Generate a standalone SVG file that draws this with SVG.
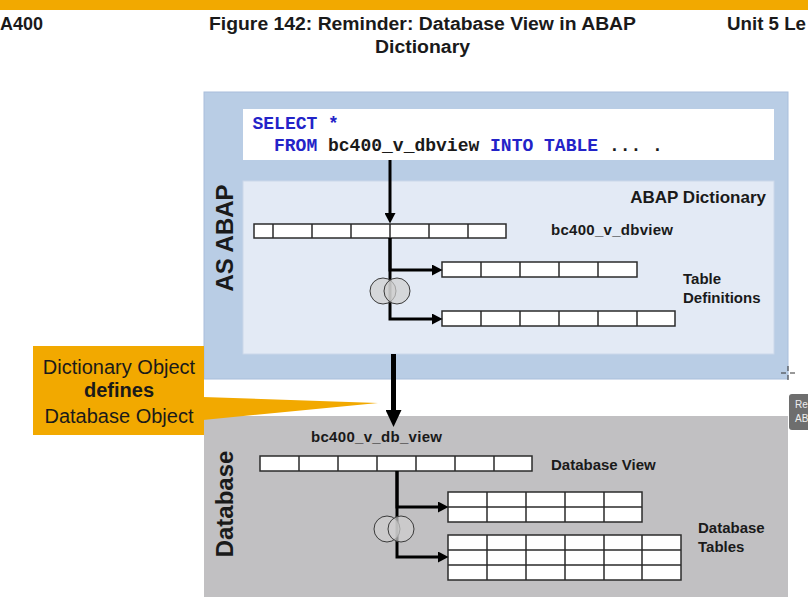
<svg xmlns="http://www.w3.org/2000/svg" width="808" height="605" viewBox="0 0 808 605">
  <style>
    .hdr { font-family: "Liberation Sans Narrow", "Liberation Sans", Arial, sans-serif; font-weight: bold; font-size: 18px; fill: #1a1a1a; }
    .lbl { font-family: "Liberation Sans", Arial, sans-serif; font-weight: bold; font-size: 15px; fill: #1a1a1a; }
    .big { font-family: "Liberation Sans", Arial, sans-serif; font-weight: bold; font-size: 24px; fill: #1a1a1a; }
    .code { font-family: "Liberation Mono", "Courier New", monospace; font-weight: bold; font-size: 18px; fill: #1a1a1a; }
    .kw { fill: #2323c8; }
    .call { font-family: "Liberation Sans", Arial, sans-serif; font-size: 20px; fill: #1a1a1a; }
    .cell { fill: #ffffff; stroke: #2b2b2b; stroke-width: 1.5; }
    .div { fill: none; stroke: #2b2b2b; stroke-width: 1.5; }
    .conn { fill: none; stroke: #000000; stroke-width: 3; }
    .venn { fill: #cfcfcf; fill-opacity: 0.7; stroke: #3a3a3a; stroke-width: 1; }
    .tab { font-family: "Liberation Sans", Arial, sans-serif; font-size: 10px; fill: #eeeeee; }
  </style>
  <defs>
    <marker id="arr" markerUnits="userSpaceOnUse" markerWidth="11" markerHeight="11" refX="0" refY="5.5" orient="auto" viewBox="0 0 11 11">
      <path d="M0,0 L10.5,5.5 L0,11 Z" fill="#000000"/>
    </marker>
    <marker id="arrB" markerUnits="userSpaceOnUse" markerWidth="17" markerHeight="16" refX="0" refY="8" orient="auto" viewBox="0 0 17 16">
      <path d="M0,0 L17,8 L0,16 Z" fill="#000000"/>
    </marker>
  </defs>

  <rect x="0" y="0" width="808" height="605" fill="#ffffff"/>

  <g id="header">
    <rect x="0" y="0" width="808" height="10" fill="#f2a900"/>
    <text class="hdr" x="0" y="30" textLength="43" lengthAdjust="spacingAndGlyphs">A400</text>
    <text class="hdr" x="209" y="30" textLength="427" lengthAdjust="spacingAndGlyphs">Figure 142: Reminder: Database View in ABAP</text>
    <text class="hdr" x="375" y="53" textLength="95" lengthAdjust="spacingAndGlyphs">Dictionary</text>
    <text class="hdr" x="727" y="30" textLength="79" lengthAdjust="spacingAndGlyphs">Unit 5 Le</text>
  </g>

  <g id="as-abap">
    <rect x="204" y="92" width="584" height="287" fill="#b9cde5" stroke="#a9bedb" stroke-width="1"/>
    <text class="big" transform="translate(233,238) rotate(-90)" text-anchor="middle">AS ABAP</text>
  </g>

  <g id="select-stmt">
    <rect x="243" y="109" width="531" height="51" fill="#ffffff"/>
    <text class="code" x="252.5" y="129"><tspan class="kw">SELECT *</tspan></text>
    <text class="code" x="274" y="151"><tspan class="kw">FROM</tspan> bc400_v_dbview <tspan class="kw">INTO TABLE</tspan> ... .</text>
  </g>

  <g id="abap-dictionary">
    <rect x="243" y="181" width="531" height="173" fill="#e3eaf5" stroke="#cbd8ea" stroke-width="1"/>
    <text class="lbl" x="766" y="203" text-anchor="end" style="font-size:17px">ABAP Dictionary</text>
  </g>

  <g id="view-abap">
    <rect class="cell" x="254" y="224" width="252" height="14"/>
    <path class="div" d="M273,224V238M312,224V238M351,224V238M390,224V238M429,224V238M468,224V238"/>
    <text class="lbl" x="551" y="235" textLength="122">bc400_v_dbview</text>
  </g>

  <g id="tabdef-1">
    <rect class="cell" x="442" y="262" width="195" height="15"/>
    <path class="div" d="M481,262V277M520,262V277M559,262V277M598,262V277"/>
  </g>
  <g id="tabdef-2">
    <rect class="cell" x="442" y="311" width="233" height="15"/>
    <path class="div" d="M481,311V326M520,311V326M559,311V326M598,311V326M637,311V326"/>
  </g>
  <g id="tabdef-label">
    <text class="lbl" x="683" y="284">Table</text>
    <text class="lbl" x="683" y="303">Definitions</text>
  </g>

  <g id="database">
    <rect x="204" y="416" width="584" height="181" fill="#c1c0c2"/>
    <text class="big" transform="translate(233,504) rotate(-90)" text-anchor="middle">Database</text>
  </g>

  <g id="view-db">
    <text class="lbl" x="311" y="442" textLength="131">bc400_v_db_view</text>
    <rect class="cell" x="260" y="456" width="272" height="15"/>
    <path class="div" d="M299,456V471M338,456V471M377,456V471M416,456V471M455,456V471M494,456V471"/>
    <text class="lbl" x="551" y="470">Database View</text>
  </g>

  <g id="dbtab-1">
    <rect class="cell" x="448" y="492" width="194" height="30"/>
    <path class="div" d="M487,492V522M526,492V522M565,492V522M604,492V522M448,507H642"/>
  </g>
  <g id="dbtab-2">
    <rect class="cell" x="448" y="535" width="233" height="45"/>
    <path class="div" d="M487,535V580M526,535V580M565,535V580M604,535V580M642,535V580M448,550H681M448,565H681"/>
  </g>
  <g id="dbtab-label">
    <text class="lbl" x="698" y="533">Database</text>
    <text class="lbl" x="698" y="552">Tables</text>
  </g>

  <g id="connectors">
    <path class="conn" d="M390,160V213" marker-end="url(#arr)"/>
    <path class="conn" d="M390,238V270H432" marker-end="url(#arr)"/>
    <path class="conn" d="M390,238V319H432" marker-end="url(#arr)"/>
    <path class="conn" d="M397,471V507H438" marker-end="url(#arr)"/>
    <path class="conn" d="M397,471V557H438" marker-end="url(#arr)"/>
    <path class="conn" d="M393.5,354V410" style="stroke-width:5" marker-end="url(#arrB)"/>
  </g>

  <g id="join-abap">
    <circle class="venn" cx="383" cy="291" r="13"/>
    <circle class="venn" cx="397" cy="291" r="13"/>
  </g>
  <g id="join-db">
    <circle class="venn" cx="387" cy="529" r="13"/>
    <circle class="venn" cx="401" cy="529" r="13"/>
  </g>

  <g id="callout">
    <path d="M203,397 L378,403 L203,420 Z" fill="#f2a900"/>
    <rect x="33" y="346" width="171" height="89" fill="#f2a900"/>
    <text class="call" x="119" y="374" text-anchor="middle">Dictionary Object</text>
    <text class="call" x="119" y="397" text-anchor="middle" font-weight="bold">defines</text>
    <text class="call" x="119" y="423" text-anchor="middle">Database Object</text>
  </g>

  <g id="side-tab">
    <rect x="789" y="394" width="30" height="36" rx="3" fill="#6e6e6e"/>
    <text class="tab" x="795" y="408">Re</text>
    <text class="tab" x="795" y="422">AB</text>
  </g>

  <g id="cursor" stroke="#333333" stroke-width="1">
    <path d="M781,373H786M790,373H795M788,366V371M788,375V380"/>
  </g>
</svg>
